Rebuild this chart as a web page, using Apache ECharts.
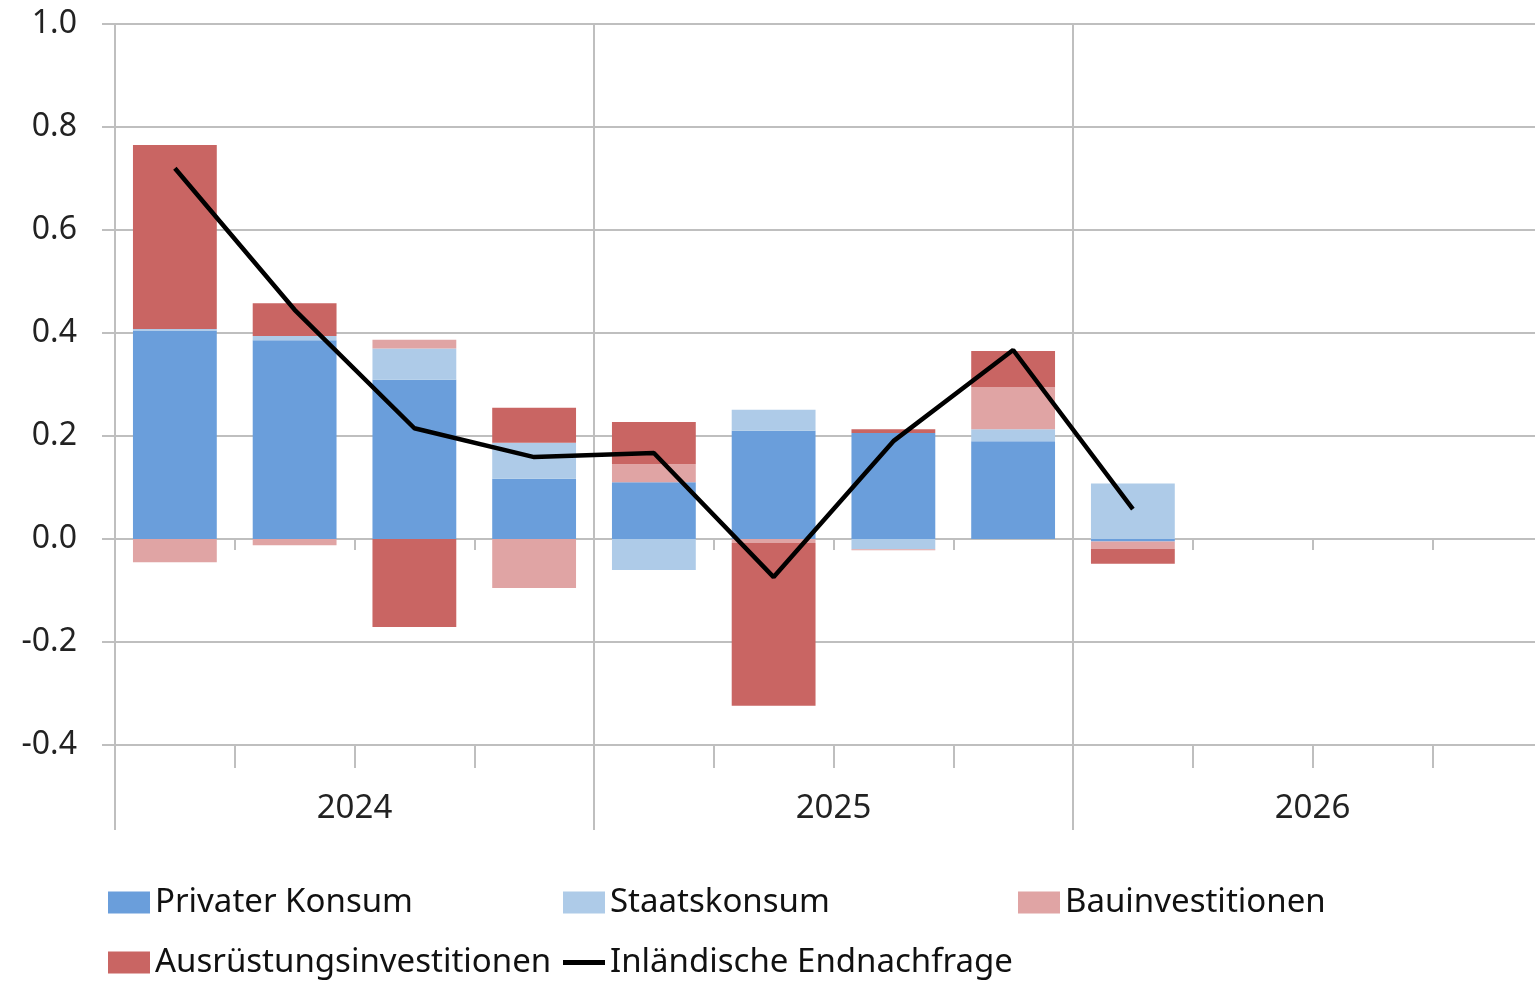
<!DOCTYPE html>
<html>
<head>
<meta charset="utf-8">
<script src="https://cdn.jsdelivr.net/npm/echarts@6/dist/echarts.min.js"></script>
<style>
  html, body { margin: 0; padding: 0; background: #fff; }
  #chart { width: 1535px; height: 981px; }
</style>
</head>
<body>
<div id="chart"></div>
<script>
const quarters = ['Q1 2024', 'Q2 2024', 'Q3 2024', 'Q4 2024',
  'Q1 2025', 'Q2 2025', 'Q3 2025', 'Q4 2025',
  'Q1 2026', 'Q2 2026', 'Q3 2026', 'Q4 2026']
const years = ['2024', '2025', '2026']

const privaterKonsum = [0.405, 0.386, 0.309, 0.117, 0.110, 0.210, 0.206, 0.190, -0.005, null, null, null]
const staatskonsum = [0.003, 0.008, 0.061, 0.070, -0.060, 0.041, -0.020, 0.023, 0.108, null, null, null]
const bauinvestitionen = [-0.045, -0.012, 0.017, -0.095, 0.035, -0.008, -0.002, 0.082, -0.014, null, null, null]
const ausruestung = [0.357, 0.064, -0.171, 0.068, 0.082, -0.316, 0.007, 0.070, -0.029, null, null, null]
const endnachfrage = [0.72, 0.445, 0.215, 0.159, 0.167, -0.074, 0.19, 0.367, 0.058, null, null, null]

const colorList = ['#6a9edb', '#aecbe8', '#e0a4a4', '#c96563', '#000000']
const gray = '#bfbfbf'
const font = 'Noto Sans'

const chart = echarts.init(document.getElementById('chart'))

const legendText = { fontFamily: font, fontSize: 33, color: '#111' }
const makeLegend = (name, left, top, h) => ({
  left: left,
  top: top,
  itemWidth: 42,
  itemHeight: h || 22,
  itemGap: 0,
  padding: 0,
  textStyle: legendText,
  data: [{ name: name, icon: 'rect' }]
})

const barSeries = (name, data, color) => ({
  name: name,
  type: 'bar',
  stack: 'total',
  barWidth: '70%',
  itemStyle: { color: color },
  data: data
})

const option = {
  animation: false,
  grid: { left: 115, top: 24, width: 1437, bottom: 236, outerBoundsMode: 'none' },
  legend: [
    makeLegend('Privater Konsum', 108, 886),
    makeLegend('Staatskonsum', 563, 886),
    makeLegend('Bauinvestitionen', 1018, 886),
    makeLegend('Ausrüstungsinvestitionen', 108, 946),
    makeLegend('Inländische Endnachfrage', 563, 946, 5)
  ],
  xAxis: [
    {
      type: 'category',
      data: quarters,
      boundaryGap: true,
      axisLine: { onZero: true, lineStyle: { color: gray, width: 2 } },
      axisTick: { show: true, interval: 0, length: 11, lineStyle: { color: gray, width: 2 } },
      axisLabel: { show: false },
      splitLine: { show: false }
    },
    {
      type: 'category',
      data: quarters,
      position: 'bottom',
      boundaryGap: true,
      axisLine: { onZero: false, lineStyle: { color: gray, width: 2 } },
      axisTick: { show: true, interval: 0, length: 23, lineStyle: { color: gray, width: 2 } },
      axisLabel: { show: false }
    },
    {
      type: 'category',
      data: years,
      position: 'bottom',
      boundaryGap: true,
      axisLine: { onZero: false, lineStyle: { color: gray, width: 2 } },
      axisTick: { show: true, interval: 0, length: 85, lineStyle: { color: gray, width: 2 } },
      axisLabel: { margin: 47, fontFamily: font, fontSize: 33, color: '#222' },
      splitLine: { show: true, interval: 0, lineStyle: { color: gray, width: 2 } }
    }
  ],
  yAxis: {
    type: 'value',
    min: -0.4,
    max: 1.0,
    interval: 0.2,
    axisLine: { show: true, lineStyle: { color: gray, width: 2 } },
    axisTick: { show: true, length: 13, lineStyle: { color: gray, width: 2 } },
    axisLabel: {
      margin: 38,
      fontFamily: font,
      fontSize: 32,
      color: '#222',
      formatter: v => v.toFixed(1)
    },
    splitLine: { show: true, lineStyle: { color: gray, width: 2 } }
  },
  series: [
    barSeries('Privater Konsum', privaterKonsum, colorList[0]),
    barSeries('Staatskonsum', staatskonsum, colorList[1]),
    barSeries('Bauinvestitionen', bauinvestitionen, colorList[2]),
    barSeries('Ausrüstungsinvestitionen', ausruestung, colorList[3]),
    {
      name: 'Inländische Endnachfrage',
      type: 'line',
      data: endnachfrage,
      showSymbol: false,
      symbol: 'none',
      lineStyle: { color: colorList[4], width: 4.5 },
      itemStyle: { color: colorList[4] },
      z: 5
    }
  ]
}

chart.setOption(option)
</script>
</body>
</html>
